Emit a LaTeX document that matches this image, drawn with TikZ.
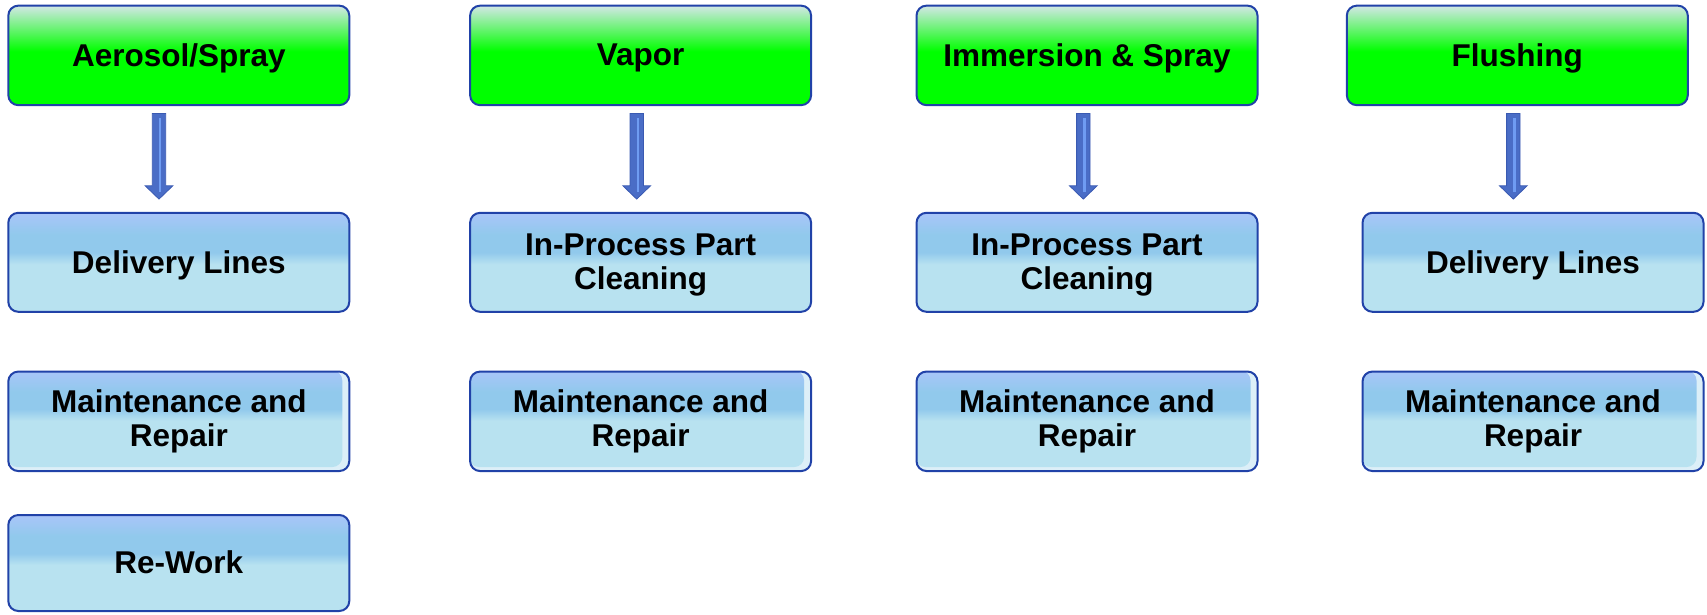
\documentclass[tikz,border=0pt]{standalone}
\usepackage{fontspec}
\setmainfont{Liberation Sans}
\usetikzlibrary{calc}

\definecolor{edgeblue}{HTML}{2142A8}
\definecolor{gfull}{HTML}{00FF00}
\definecolor{gpale}{HTML}{D3E7E6}
\definecolor{blow}{HTML}{B8E2F0}
\definecolor{bmid}{HTML}{91C9EC}
\definecolor{btop}{HTML}{A9C5F9}
\definecolor{bpale}{HTML}{DCEFF8}
\definecolor{arrowfill}{HTML}{4A6DC6}
\definecolor{arrowedge}{HTML}{3A5AB2}
\definecolor{arrowshine}{HTML}{6F9CF2}

% vertical shadings: the band 25bp..75bp spans the box height
\pgfdeclareverticalshading{greenbox}{100bp}{%
  color(0bp)=(gfull); color(52bp)=(gfull); color(75bp)=(gpale); color(100bp)=(gpale)}
\pgfdeclareverticalshading{bluebox}{100bp}{%
  color(0bp)=(blow); color(49bp)=(blow); color(55bp)=(bmid); color(64bp)=(bmid);
  color(75bp)=(btop); color(100bp)=(btop)}

\tikzset{
  box/.style={draw=edgeblue, line width=2pt, rounded corners=10pt,
    minimum width=341pt, align=center, inner sep=0pt,
    font=\fontsize{31.5}{34}\selectfont\bfseries},
  headbox/.style={box, shading=greenbox, minimum height=99.5pt, text depth=1pt},
  itembox/.style={box, shading=bluebox, text depth=1pt},
  % blue fill that stops short of the right and bottom edges
  insetbox/.style={box, path picture={
      \fill[bpale] (path picture bounding box.south west)
        rectangle (path picture bounding box.north east);
      \shade[shading=bluebox] ($(path picture bounding box.north west)+(-1,-1)$)
        rectangle ($(path picture bounding box.south east)+(-7,-4)$);}},
  arrowbody/.style={fill=arrowfill, draw=arrowedge, line width=0.8pt, line join=miter},
  arrowhl/.style={draw=arrowshine, line width=2.4pt},
}

% broad block arrow pointing down from #1 to #2
\newcommand\blockarrowdown[2]{%
  \filldraw[arrowbody] ($(#1)+(-6.7,0)$) -- ($(#1)+(6.7,0)$)
    -- ($(#2)+(6.7,-13.3)$) -- ($(#2)+(13.8,-13.3)$) -- (#2)
    -- ($(#2)+(-13.8,-13.3)$) -- ($(#2)+(-6.7,-13.3)$) -- cycle;
  \draw[arrowhl] ($(#1)+(1.2,5)$) -- ($(#2)+(1.2,-7)$);}

\begin{document}
\begin{tikzpicture}[x=1pt,y=-1pt]
  \useasboundingbox (0,0) rectangle (1707,614);

  % headings
  \node[headbox] (h1) at (178.8,55.4)  {Aerosol/Spray};
  \node[headbox] (h2) at (640.6,55.4)  {Vapor};
  \node[headbox] (h3) at (1087,55.4)   {Immersion \& Spray};
  \node[headbox] (h4) at (1517.3,55.4) {Flushing};

  % second row
  \node[itembox, minimum height=99pt] (d1) at (178.8,262.3) {Delivery Lines};
  \node[itembox, minimum height=99pt] (p2) at (640.6,262.3) {In-Process Part\\Cleaning};
  \node[itembox, minimum height=99pt] (p3) at (1087,262.3)  {In-Process Part\\Cleaning};
  \node[itembox, minimum height=99pt] (d4) at (1533,262.3)  {Delivery Lines};

  % third row
  \node[insetbox, minimum height=99.5pt] (m1) at (178.8,421.3) {Maintenance and\\Repair};
  \node[insetbox, minimum height=99.5pt] (m2) at (640.6,421.3) {Maintenance and\\Repair};
  \node[insetbox, minimum height=99.5pt] (m3) at (1087,421.3)  {Maintenance and\\Repair};
  \node[insetbox, minimum height=99.5pt] (m4) at (1533,421.3)  {Maintenance and\\Repair};

  % fourth row
  \node[itembox, minimum height=96pt] (r1) at (178.8,563) {Re-Work};

  % arrows from heading to first item
  \coordinate (s1) at ($(h1.south)+(-19.8,7.3)$);
  \coordinate (e1) at ($(s1 |- d1.north)+(0,-12.7)$);
  \coordinate (s2) at ($(h2.south)+(-3.9,7.3)$);
  \coordinate (e2) at ($(s2 |- p2.north)+(0,-12.7)$);
  \coordinate (s3) at ($(h3.south)+(-3.7,7.3)$);
  \coordinate (e3) at ($(s3 |- p3.north)+(0,-12.7)$);
  \coordinate (s4) at ($(h4.south)+(-4,7.3)$);
  \coordinate (e4) at ($(s4 |- d4.north)+(0,-12.7)$);
  \blockarrowdown{s1}{e1}
  \blockarrowdown{s2}{e2}
  \blockarrowdown{s3}{e3}
  \blockarrowdown{s4}{e4}
\end{tikzpicture}
\end{document}
